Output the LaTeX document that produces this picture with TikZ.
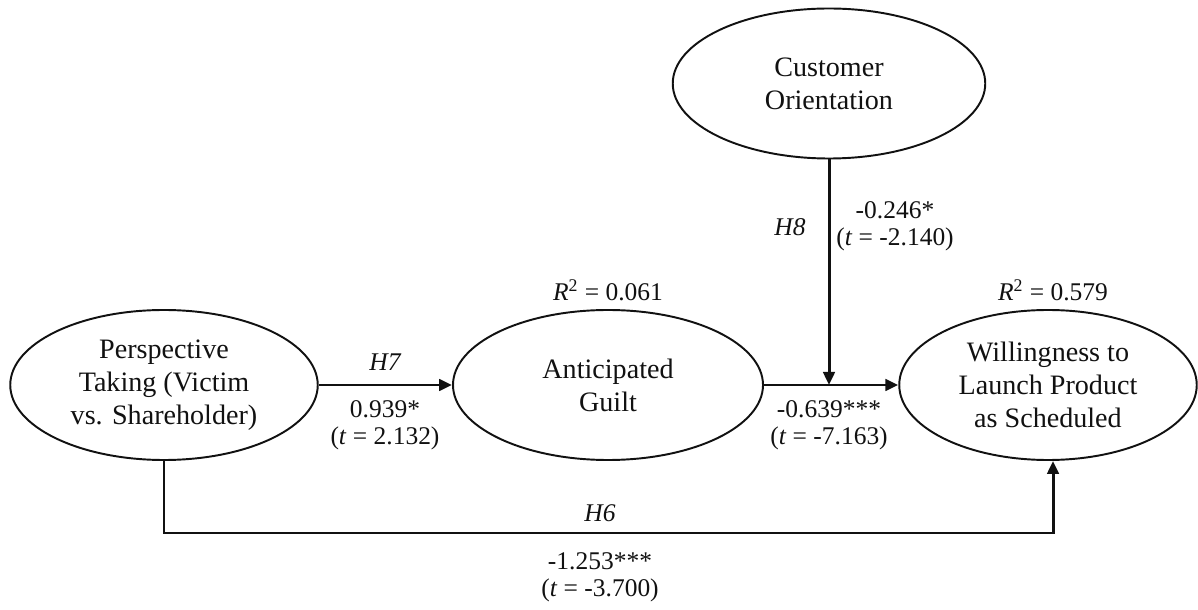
\documentclass[tikz,border=0pt]{standalone}
\usepackage{fontspec}
\setmainfont{Liberation Serif}
\usepackage{xcolor}
\usetikzlibrary{arrows.meta,positioning,shapes.geometric,calc}
\definecolor{ink}{HTML}{111111}
\tikzset{
  >={Triangle[length=2.6mm,width=2.3mm]},
  latent/.style={ellipse, draw=ink, line width=1.1pt, fill=white, align=center,
                 inner sep=0pt, minimum height=3.0cm, text=ink,
                 font=\rmfamily\fontsize{16}{18.7}\selectfont},
  figsmall/.style={align=center, text=ink, inner sep=1pt,
                   font=\rmfamily\fontsize{14.5}{15.5}\selectfont},
  hyp/.style={figsmall, font=\rmfamily\itshape\fontsize{14.5}{15.5}\selectfont},
  path/.style={->, draw=ink, line width=1.7pt},
}

\begin{document}
\begin{tikzpicture}[line join=miter]
\useasboundingbox (0,0) rectangle (23.96,12.18);

% ===================== CONSTRUCTS =====================
\node[latent, minimum width=6.15cm] (pt) at (3.28,4.48)
  {Perspective\\Taking (Victim\\vs. Shareholder)};
\node[latent, minimum width=6.2cm] (ag) at (12.16,4.48) {Anticipated\\Guilt};
\node[latent, minimum width=6.25cm] (co) at (16.58,10.51) {Customer\\Orientation};
\node[latent, minimum width=5.95cm] (wl) at (20.96,4.48)
  {Willingness to\\Launch Product\\as Scheduled};

\node[figsmall] (r2ag) at (12.16,6.38) {\textit{R}\textsuperscript{2} = 0.061};
\node[figsmall] (r2wl) at (21.06,6.38) {\textit{R}\textsuperscript{2} = 0.579};

% ===================== PATHS =====================
\draw[path] (pt.east) -- (ag.west);
\draw[path] (ag.east) -- (wl.west);
\coordinate (mod) at (co.south |- ag.east);
\draw[path] (co.south) -- (mod);
% direct effect runs underneath
\coordinate (h6) at (0,1.52);
\coordinate (wlin) at ($(wl.south)+(0.1,0)$);
\draw[path] (pt.south) |- (wlin |- h6) -- (wlin);

% ===================== ESTIMATES =====================
\node[hyp] (h7) at (7.70,4.94) {H7};
\node[figsmall] (e7) at (7.70,3.68) {0.939*\\(\textit{t} = 2.132)};
\node[hyp] (h8) at (15.80,7.64) {H8};
\node[figsmall] (e8) at (17.90,7.66) {-0.246*\\(\textit{t} = -2.140)};
\node[figsmall] (eag) at (16.58,3.68) {-0.639***\\(\textit{t} = -7.163)};
\node[hyp] (h6l) at (12.00,1.92) {H6};
\node[figsmall] (e6) at (12.00,0.64) {-1.253***\\(\textit{t} = -3.700)};

\end{tikzpicture}
\end{document}
